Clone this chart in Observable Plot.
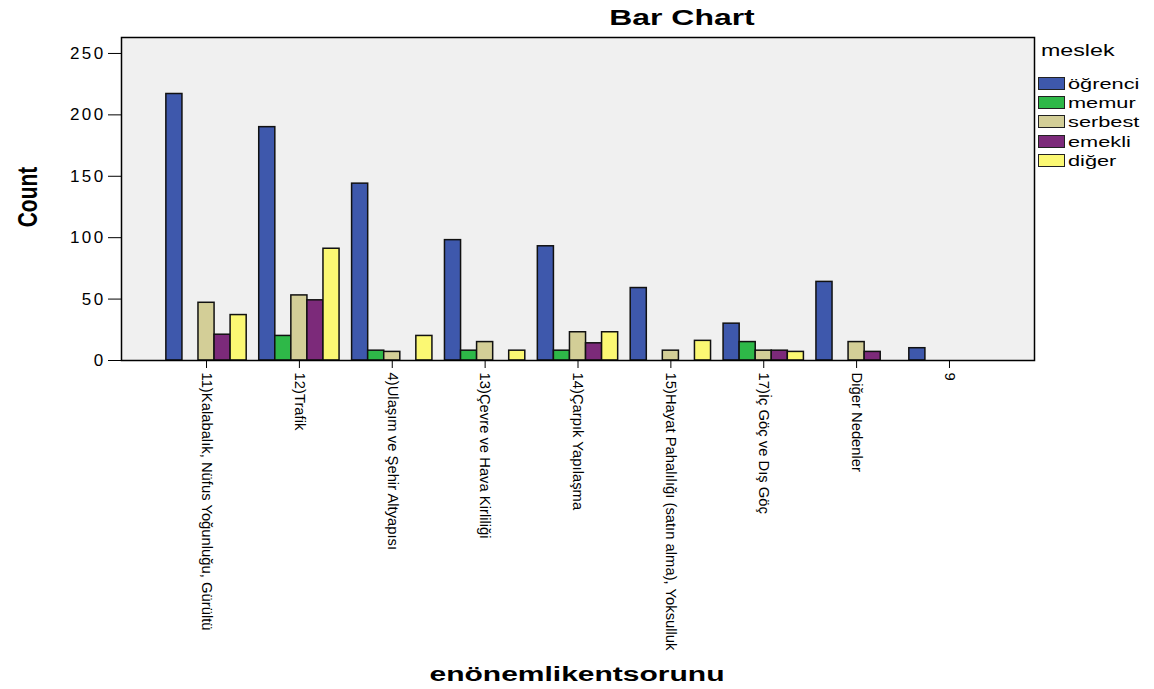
<!DOCTYPE html>
<html><head><meta charset="utf-8">
<script src="https://cdn.jsdelivr.net/npm/d3@7"></script>
<script src="https://cdn.jsdelivr.net/npm/@observablehq/plot@0.6"></script>
<style>
body{margin:0;background:#fff;}
#wrap{position:relative;width:1154px;height:689px;font-family:"Liberation Sans",Arial,sans-serif;color:#000;}
#wrap svg{position:absolute;left:0;top:0;}
.abs{position:absolute;white-space:nowrap;line-height:1;}
#wrap g[aria-label="y-axis tick label"]{font-family:"Liberation Sans",Arial,sans-serif;font-size:17px;letter-spacing:2.4px;}
#wrap g[aria-label="x-axis tick label"]{font-family:"Liberation Sans",Arial,sans-serif;font-size:14.8px;}
</style></head><body><div id="wrap"></div>
<script>
const categories = [
  "11)Kalabalık, Nüfus Yoğunluğu, Gürültü",
  "12)Trafik",
  "4)Ulaşım ve Şehir Altyapısı",
  "13)Çevre ve Hava Kirliliği",
  "14)Çarpık Yapılaşma",
  "15)Hayat Pahalılığı (satın alma), Yoksulluk",
  "17)İç Göç ve Dış Göç",
  "Diğer Nedenler",
  "9"
];
const series = ["öğrenci", "memur", "serbest", "emekli", "diğer"];
const ogrenci = [217, 190, 144, 98, 93, 59, 30, 64, 10];
const memur   = [0, 20, 8, 8, 8, 0, 15, 0, 0];
const serbest = [47, 53, 7, 15, 23, 8, 8, 15, 0];
const emekli  = [21, 49, 0, 0, 14, 0, 8, 7, 0];
const diger   = [37, 91, 20, 8, 23, 16, 7, 0, 0];
const colors  = ["#3E58AC", "#2EB848", "#D3CE97", "#7C2A7A", "#FBF873"];
const yTicks  = [0, 50, 100, 150, 200, 250];
const titleText = "Bar Chart";
const xLabel = "enönemlikentsorunu";
const yLabel = "Count";
const legendTitle = "meslek";

const valuesBySeries = [ogrenci, memur, serbest, emekli, diger];
const table = categories.flatMap((c, i) =>
  series.map((s, j) => ({category: c, series: s, count: valuesBySeries[j][i]}))
).filter(d => d.count > 0);

// style: width of one bar inside a group (px)
const barW = 16.06;
const n = series.length;

const chart = Plot.plot({
  width: 1154, height: 689,
  marginTop: 37, marginBottom: 329, marginLeft: 121, marginRight: 120,
  style: {fontFamily: "Liberation Sans, Arial, sans-serif", fontSize: "14px", color: "#000", background: "transparent"},
  x: {type: "band", domain: categories, paddingInner: 0.135, paddingOuter: 0.483, round: false, label: null},
  y: {domain: [0, 263], label: null},
  color: {domain: series, range: colors},
  marks: [
    Plot.frame({fill: "#f0f0f0", stroke: "none"}),
    ...series.map((s, j) => Plot.barY(table, {
      filter: d => d.series === s,
      x: "category", y: "count", fill: "series",
      stroke: "#111", strokeWidth: 1.5,
      insetLeft: j * barW, insetRight: (n - 1 - j) * barW
    })),
    Plot.frame({stroke: "#000", strokeWidth: 1.5}),
    Plot.axisY({ticks: yTicks, tickSize: 13, tickPadding: 3, label: null}),
    Plot.axisX({anchor: "bottom", tickRotate: 90, tickSize: 8, tickPadding: 4, label: null})
  ]
});

const wrap = document.getElementById("wrap");
wrap.appendChild(chart);

function addText(txt, css) {
  const d = document.createElement("div");
  d.className = "abs";
  d.textContent = txt;
  Object.assign(d.style, css);
  wrap.appendChild(d);
  return d;
}
addText(titleText, {left: "682px", top: "7px", fontSize: "22px", fontWeight: "bold", transform: "translateX(-50%) scaleX(1.45)"});
addText(xLabel, {left: "577px", top: "664px", fontSize: "20px", fontWeight: "bold", transform: "translateX(-50%) scaleX(1.5)"});
addText(yLabel, {left: "27px", top: "197px", fontSize: "21px", fontWeight: "bold", transform: "translate(-50%,-50%) scaleX(1.3) rotate(-90deg)"});

const leg = document.createElement("div");
leg.className = "abs";
Object.assign(leg.style, {left: "1038px", top: "43px"});
const lt = document.createElement("div");
lt.textContent = legendTitle;
Object.assign(lt.style, {fontSize: "16px", transformOrigin: "left", transform: "scaleX(1.45)", marginLeft: "3px", marginBottom: "15px"});
leg.appendChild(lt);
series.forEach((s, i) => {
  const row = document.createElement("div");
  Object.assign(row.style, {display: "flex", alignItems: "center", height: "19.2px"});
  const sw = document.createElement("div");
  Object.assign(sw.style, {width: "25px", height: "11px", background: colors[i], border: "1px solid #222", marginRight: "3px"});
  const t = document.createElement("div");
  t.textContent = s;
  Object.assign(t.style, {fontSize: "15px", transformOrigin: "left", transform: "scaleX(1.45)"});
  row.appendChild(sw); row.appendChild(t);
  leg.appendChild(row);
});
wrap.appendChild(leg);
</script></body></html>
